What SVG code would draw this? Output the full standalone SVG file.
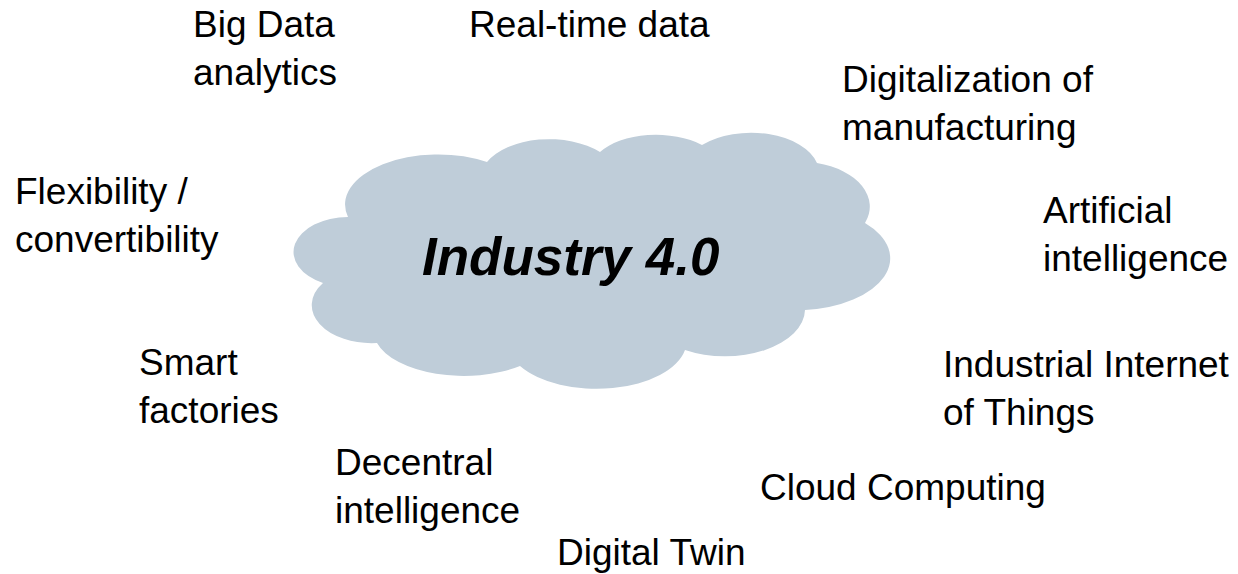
<svg xmlns="http://www.w3.org/2000/svg" width="1238" height="574" viewBox="0 0 1238 574">
  <style>
    .lbl { font-family: "Liberation Sans", Arial, sans-serif; font-size: 37px; fill: #000000; }
    .title { font-family: "Liberation Sans", Arial, sans-serif; font-size: 53px; font-weight: bold; font-style: italic; fill: #000000; }
    .cloud { fill: #BFCDD9; stroke: none; }
  </style>
  <rect x="0" y="0" width="1238" height="574" fill="#FFFFFF"/>

  <!-- central cloud -->
  <g id="cloud">
    <path class="cloud" d="M 348 217
      A 93 50 0 0 1 487 162
      A 69 40 0 0 1 600 152
      A 65 35 0 0 1 702 145
      A 68 40 0 0 1 817 163
      A 70 45 0 0 1 865 223
      A 95 52 0 0 1 805 310
      A 80 47 0 0 1 685 350
      A 90 48 0 0 1 520 366
      A 90 45 0 0 1 377 343
      A 60 38 0 0 1 323 283
      A 55 35 0 0 1 348 217 Z"/>
    <text class="title" x="422" y="275">Industry 4.0</text>
  </g>

  <!-- surrounding topics -->
  <g id="big-data">
    <text class="lbl" x="193" y="37">Big Data</text>
    <text class="lbl" x="193" y="85">analytics</text>
  </g>
  <g id="real-time">
    <text class="lbl" x="469" y="37">Real-time data</text>
  </g>
  <g id="digitalization">
    <text class="lbl" x="842" y="92">Digitalization of</text>
    <text class="lbl" x="842" y="140">manufacturing</text>
  </g>
  <g id="flexibility">
    <text class="lbl" x="15" y="204">Flexibility /</text>
    <text class="lbl" x="15" y="252">convertibility</text>
  </g>
  <g id="ai">
    <text class="lbl" x="1043" y="223">Artificial</text>
    <text class="lbl" x="1043" y="271">intelligence</text>
  </g>
  <g id="smart-factories">
    <text class="lbl" x="139" y="375">Smart</text>
    <text class="lbl" x="139" y="423">factories</text>
  </g>
  <g id="iiot">
    <text class="lbl" x="943" y="377">Industrial Internet</text>
    <text class="lbl" x="943" y="425">of Things</text>
  </g>
  <g id="decentral">
    <text class="lbl" x="335" y="475">Decentral</text>
    <text class="lbl" x="335" y="523">intelligence</text>
  </g>
  <g id="cloud-computing">
    <text class="lbl" x="760" y="500">Cloud Computing</text>
  </g>
  <g id="digital-twin">
    <text class="lbl" x="557" y="565">Digital Twin</text>
  </g>

  <!-- no connectors are drawn -->
  <g id="connectors"/>
</svg>
